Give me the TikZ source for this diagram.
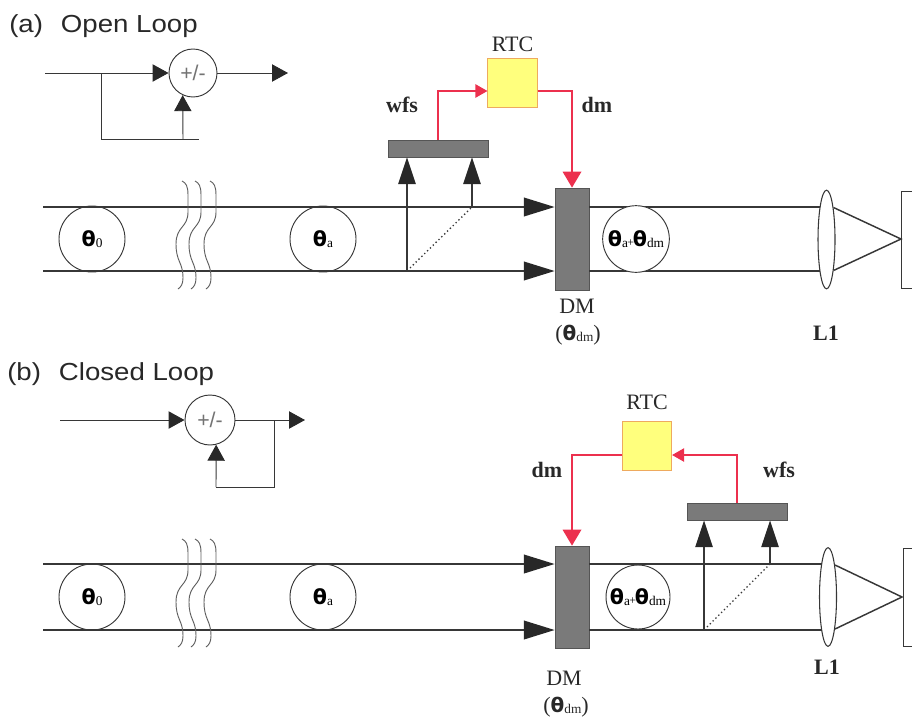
\documentclass[tikz,border=0pt]{standalone}
\usepackage{fontspec}
\setmainfont{Liberation Serif}
\newfontfamily\titlefont{Liberation Sans}
\newfontfamily\thfont{DejaVu Sans}
\usetikzlibrary{arrows.meta,shapes.geometric,calc}
\definecolor{lnc}{RGB}{55,55,55}
\definecolor{tipc}{RGB}{40,40,40}
\definecolor{redc}{RGB}{236,48,78}
\definecolor{yelc}{RGB}{255,255,125}
\definecolor{yelb}{RGB}{238,170,95}
\definecolor{grc}{RGB}{122,122,122}
\definecolor{grb}{RGB}{85,85,85}
\definecolor{txc}{RGB}{40,40,40}
\newcommand{\thsym}[1]{{\thfont\bfseries\fontsize{15.5}{15.5}\selectfont θ}\raisebox{-1pt}{\fontsize{10}{10}\selectfont #1}}
\begin{document}
\begin{tikzpicture}[x=0.75pt,y=-0.75pt,
  beam/.style={draw=lnc, line width=1.1pt},
  thinl/.style={draw=lnc, line width=0.7pt},
  bigtip/.style={-{Triangle[length=23pt,width=14pt,color=tipc]}},
  uptip/.style={-{Triangle[length=20pt,width=13pt,color=tipc]}},
  sumtip/.style={-{Triangle[length=12pt,width=13pt,color=tipc]}},
  redl/.style={draw=redc, line width=1pt},
  reddown/.style={-{Triangle[length=12pt,width=14pt,color=redc]}},
  redside/.style={-{Triangle[length=9pt,width=10pt,color=redc]}},
  sumnode/.style={circle, draw=lnc, line width=0.7pt, minimum size=36pt, inner sep=0pt,
     font=\titlefont\fontsize{16}{16}\selectfont, text=black!55},
  thcirc/.style={circle, draw=lnc, line width=0.7pt, minimum size=49.5pt, inner sep=0pt},
  dmbox/.style={rectangle, draw=grb, fill=grc, line width=0.6pt, minimum width=25.5pt, minimum height=76.5pt, inner sep=0pt},
  wfsbox/.style={rectangle, draw=grb, fill=grc, line width=0.6pt, minimum width=75pt, minimum height=12.75pt, inner sep=0pt},
  rtcbox/.style={rectangle, draw=yelb, fill=yelc, line width=0.6pt, minimum width=37pt, minimum height=37pt, inner sep=0pt},
  lensn/.style={ellipse, draw=lnc, line width=0.8pt, minimum width=12.75pt, minimum height=74pt, inner sep=0pt},
  lbl/.style={font=\fontsize{16.5}{16.5}\selectfont, text=txc, inner sep=0pt},
  blbl/.style={font=\bfseries\fontsize{16.5}{16.5}\selectfont, text=txc, inner sep=0pt},
  ttl/.style={font=\titlefont\fontsize{18.5}{18.5}\selectfont, text=txc, anchor=west, inner sep=0pt},
  wave/.style={draw=lnc!80, line width=0.7pt}
]
\useasboundingbox (0,0) rectangle (912,718);
\clip (0,0) rectangle (912,718);

% ================= (a) Open Loop =================
\node[ttl] (ta) at (9,26) {\scalebox{1.12}[1]{(a)\hspace{12pt}Open Loop}};
\node[sumnode] (asum) at (193,73) {+/-};
\coordinate (ain) at (45,73);
\coordinate (aout) at (288,73);
\coordinate (afb) at (101,73);
\coordinate (afbe) at (199,139);
\coordinate (afbu) at (183,139);
\draw[thinl,sumtip] (ain) -- (asum.west);
\draw[thinl,sumtip] (asum.east) -- (aout);
\draw[thinl] (afb) |- (afbe);
\draw[thinl,sumtip] (afbu) -- (asum.-115);

% beam
\node[dmbox] (dma) at (572,239) {};
\node[lensn] (lensa) at (826.5,239.5) {};
\coordinate (atl) at (43,207);
\coordinate (abl) at (43,271);
\coordinate (afoc) at (901,239);
\draw[beam,bigtip] (atl) -- (atl -| dma.west);
\draw[beam,bigtip] (abl) -- (abl -| dma.west);
\draw[beam] (atl -| dma.east) -- ($(lensa.center)+(-6.5,-32.5)$);
\draw[beam] (abl -| dma.east) -- ($(lensa.center)+(-6.5,31.5)$);
\draw[beam] ($(lensa.center)+(7,-32)$) -- (afoc) -- ($(lensa.center)+(7,31)$);
\draw[thinl] (901,191) rectangle (940,288);

\node[thcirc] (th0a) at (92,239) {\thsym{0}};
\node[thcirc] (thaa) at (323,239) {\thsym{a}};
\node[thcirc, minimum size=50pt, fill=white] (thsa) at (636,239) {\thsym{a}\hspace{-0.5pt}{\fontsize{9}{9}\selectfont+}\hspace{-1pt}\thsym{dm}};

\foreach \x in {187,200,215}{
  \draw[wave] (\x-5,181) .. controls (\x-1,183) and (\x+1,186) .. (\x+1,195) -- (\x+1,212)
     .. controls (\x+1,228) and (\x-11,226) .. (\x-11,244)
     .. controls (\x-11,262) and (\x-4,262) .. (\x-4,278)
     .. controls (\x-4,284) and (\x-6,287) .. (\x-9,289);
}

% wfs / rtc
\node[wfsbox] (wfsa) at (438,148.5) {};
\node[rtcbox] (rtca) at (512.5,83) {};
\node[lbl] (rtcla) at (512.5,44) {RTC};
\coordinate (wa1) at (407,271);
\coordinate (wa2) at (472,207);
\draw[beam,uptip] (wa1) -- (wa1 |- wfsa.south);
\draw[beam,uptip] (wa2) -- (wa2 |- wfsa.south);
\draw[thinl, line width=1pt, dotted] ($(wa1)+(3,-3)$) -- (wa2);
\draw[redl,redside] (wfsa.north) |- ($(rtca.west)+(0,8)$);
\draw[redl,reddown] ($(rtca.east)+(0,8)$) -| (dma.north);
\node[blbl] (wfsla) at (402,105) {wfs};
\node[blbl] (dmla) at (597,105) {dm};
\node[lbl] (dmna) at (577,306) {DM};
\node[lbl] (dmta) at (578,335) {({\thfont\bfseries\fontsize{15}{15}\selectfont θ}\raisebox{-1pt}{\fontsize{10}{10}\selectfont dm})};
\node[blbl] (l1a) at (826,333) {L1};

% ================= (b) Closed Loop =================
\node[ttl] (tb) at (7,374) {\scalebox{1.12}[1]{(b)\hspace{12pt}Closed Loop}};
\node[sumnode, minimum size=37.5pt] (bsum) at (210,420) {+/-};
\coordinate (bin) at (60,420);
\coordinate (bout) at (305,420);
\coordinate (bfb) at (274,420);
\coordinate (bfbc) at (216,487);
\draw[thinl,sumtip] (bin) -- (bsum.west);
\draw[thinl,sumtip] (bsum.east) -- (bout);
\draw[thinl] (bfb) |- (bfbc);
\draw[thinl,sumtip] (bfbc) -- (bsum.-76);

\node[dmbox] (dmb) at (572,597) {};
\node[lensn] (lensb) at (828,597) {};
\coordinate (btl) at (43,564);
\coordinate (bbl) at (43,630);
\coordinate (bfoc) at (902,597);
\draw[beam,bigtip] (btl) -- (btl -| dmb.west);
\draw[beam,bigtip] (bbl) -- (bbl -| dmb.west);
\draw[beam] (btl -| dmb.east) -- ($(lensb.center)+(-6.5,-33)$);
\draw[beam] (bbl -| dmb.east) -- ($(lensb.center)+(-6.5,33)$);
\draw[beam] ($(lensb.center)+(7,-32)$) -- (bfoc) -- ($(lensb.center)+(7,32)$);
\draw[thinl] (903,548) rectangle (940,646);

\node[thcirc] (th0b) at (92,597) {\thsym{0}};
\node[thcirc] (thab) at (323,597) {\thsym{a}};

\foreach \x in {187,200,215}{
  \draw[wave] (\x-5,539) .. controls (\x-1,541) and (\x+1,544) .. (\x+1,553) -- (\x+1,570)
     .. controls (\x+1,586) and (\x-11,584) .. (\x-11,602)
     .. controls (\x-11,620) and (\x-4,620) .. (\x-4,636)
     .. controls (\x-4,642) and (\x-6,645) .. (\x-9,647);
}

\node[wfsbox] (wfsb) at (737,511.5) {};
\node[rtcbox] (rtcb) at (647,446) {};
\node[lbl] (rtclb) at (647,402) {RTC};
\coordinate (wb1) at (704,630);
\coordinate (wb2) at (770,564);
\draw[beam,uptip] (wb1) -- (wb1 |- wfsb.south);
\draw[beam,uptip] (wb2) -- (wb2 |- wfsb.south);
\draw[thinl, line width=1pt, dotted] ($(wb1)+(3,-3)$) -- (wb2);
\node[thcirc, minimum size=48pt, fill=white] (thsb) at (638,597) {\thsym{a}\hspace{-0.5pt}{\fontsize{9}{9}\selectfont+}\hspace{-1pt}\thsym{dm}};
\draw[redl,redside] (wfsb.north) |- ($(rtcb.east)+(0,9)$);
\draw[redl,reddown] ($(rtcb.west)+(0,9)$) -| (dmb.north);
\node[blbl] (dmlb) at (547,470) {dm};
\node[blbl] (wfslb) at (779,470) {wfs};
\node[lbl] (dmnb) at (564,678) {DM};
\node[lbl] (dmtb) at (566,707) {({\thfont\bfseries\fontsize{15}{15}\selectfont θ}\raisebox{-1pt}{\fontsize{10}{10}\selectfont dm})};
\node[blbl] (l1b) at (827,667) {L1};
\end{tikzpicture}
\end{document}
